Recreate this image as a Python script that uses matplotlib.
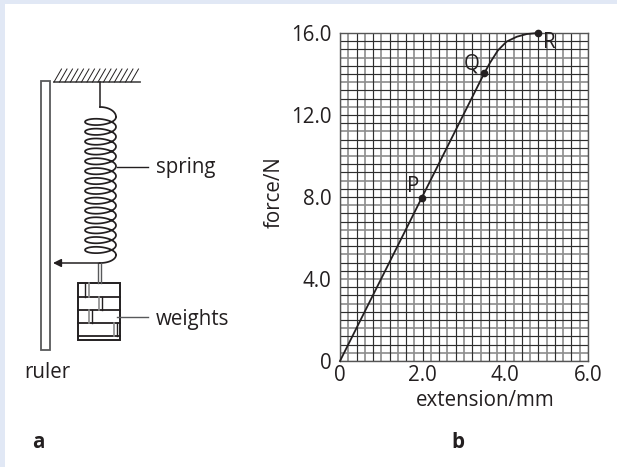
import numpy as np
import matplotlib
matplotlib.use('Agg')
import matplotlib.pyplot as plt

# graph values
curve_x = [0, 1.98, 3.48, 3.63, 3.82, 4.03, 4.28, 4.52, 4.79]
curve_f = [0, 7.97, 14.0, 14.55, 15.15, 15.58, 15.82, 15.95, 16.0]
point_names = ['P', 'Q', 'R']
point_x = [1.98, 3.48, 4.79]
point_f = [7.97, 14.05, 16.0]
x_ticks = [0, 2.0, 4.0, 6.0]
x_tick_labels = ['0', '2.0', '4.0', '6.0']
y_ticks = [4.0, 8.0, 12.0, 16.0]
y_tick_labels = ['4.0', '8.0', '12.0', '16.0']

W, H = 617, 467
INK = '#231f20'
DARK = '#2e2e2e'
GREY = '#8c8c8c'
FS = 14.8
plt.rcParams['font.family'] = 'Open Sans'

fig = plt.figure(figsize=(W / 100, H / 100), dpi=100, facecolor='#e1e8f5')

# 왼쪽 그림 a: 픽셀 좌표계
ax = fig.add_axes([0, 0, 1, 1])
ax.set_xlim(0, W)
ax.set_ylim(H, 0)
ax.axis('off')
ax.add_patch(plt.Rectangle((5, 4), W - 5, H - 4, fc='white', ec='none'))

# ceiling + hatching
ax.plot([54, 140], [82, 82], color='#555555', lw=1.3)
for hx in np.arange(54, 135, 5.5):
    ax.plot([hx, hx + 7.5], [82, 69], color=INK, lw=0.7)
ax.plot([100, 100], [82, 107], color=INK, lw=1.1)

# ruler
ax.add_patch(plt.Rectangle((41, 81), 9, 269, fc='white', ec='#58595b', lw=1.3))

# spring
t = np.linspace(0, 14 * 2 * np.pi, 1400)
sx = 100.5 + 15.5 * np.cos(t)
sy = 117 + t / (2 * np.pi) * 9.85 + 5.4 * np.sin(t)
ax.plot(sx, sy, color=INK, lw=1.25)
a = np.linspace(0, np.pi / 2, 30)
ax.plot(100 + 16 * np.sin(a), 117 - 10 * np.cos(a), color=INK, lw=1.25)
ax.plot(100 + 16 * np.cos(a), 255 + 8 * np.sin(a), color=INK, lw=1.25)

# arrow to ruler
ax.annotate('', xy=(53, 263), xytext=(100, 263),
            arrowprops=dict(arrowstyle='-|>', color=INK, lw=1.1, mutation_scale=12,
                            shrinkA=0, shrinkB=0))
ax.plot([97.5, 97.5], [263, 283], color='#58595b', lw=1)
ax.plot([101, 101], [263, 283], color='#58595b', lw=1)

# weights
ax.add_patch(plt.Rectangle((78, 283), 42, 57, fc='white', ec=INK, lw=1.4))
for wy in [297, 309.5, 323, 336]:
    ax.plot([78, 120], [wy, wy], color=INK, lw=1.3)
for wx0, wx1, y0, y1 in [(85.3, 88.5, 283, 297), (102, 99.3, 297, 309.5),
                         (91.7, 88.5, 309.5, 323), (117, 113.5, 323, 336)]:
    ax.plot([wx0, wx0], [y0, y1], color=INK, lw=1)
    ax.plot([wx1, wx1], [y0, y1], color=GREY, lw=1.2)

# labels
ax.plot([117, 148], [167, 167], color=INK, lw=1)
ax.plot([117, 148], [317, 317], color='#58595b', lw=1)
ax.text(156, 168, 'spring', fontsize=FS, color=INK, va='center')
ax.text(156, 319, 'weights', fontsize=FS, color=INK, va='center')
ax.text(24, 372, 'ruler', fontsize=FS, color=INK, va='center')
ax.text(32, 443, 'a', fontsize=FS, fontweight='bold', color=INK, ha='left', va='center')
ax.text(451, 443, 'b', fontsize=FS, fontweight='bold', color=INK, ha='left', va='center')

# 오른쪽 그래프 b
g = fig.add_axes([340 / W, 1 - 361 / H, 248 / W, 328 / H])
g.set_xlim(0, 6)
g.set_ylim(0, 16)
grid_x = np.linspace(0, 6, 31)
grid_y = np.linspace(0, 16, 41)
# 격자: 진한 선과 회색 선이 번갈아 나옴
for i, v in enumerate(grid_x):
    if i % 2:
        g.axvline(v, color=GREY, lw=1.2, zorder=1)
    else:
        g.axvline(v, color=DARK, lw=0.85, zorder=1.5)
for i, v in enumerate(grid_y):
    if i % 3 == 1:
        g.axhline(v, color=GREY, lw=1.2, zorder=1)
    else:
        g.axhline(v, color=DARK, lw=0.85, zorder=1.5)
g.set_xticks(x_ticks, x_tick_labels, fontsize=FS, color=INK)
g.set_yticks([0] + y_ticks, ['0'] + y_tick_labels, fontsize=FS, color=INK)
g.tick_params(axis='x', length=0, pad=3)
g.tick_params(axis='y', length=0, pad=6)
for s in g.spines.values():
    s.set_color('#555555')
    s.set_linewidth(1)
g.plot(curve_x, curve_f, color=INK, lw=1.3, clip_on=False, zorder=3)
g.plot(point_x, point_f, 'o', color=INK, ms=4.5, clip_on=False, zorder=4)
for name, px, pf, dx, dy in zip(point_names, point_x, point_f, [-6.5, -8.6, 8], [8, 6.5, -7]):
    g.annotate(name, (px, pf), xytext=(dx, dy), textcoords='offset points',
               fontsize=FS, color=INK, ha='center', va='center', zorder=5)
g.set_xlabel('extension/mm', fontsize=FS, color=INK)
g.xaxis.set_label_coords(145 / 248, -29 / 328)
g.set_ylabel('force/N', fontsize=FS, color=INK)
g.yaxis.set_label_coords(-55 / 248, 0.515)

fig.savefig('out.png', dpi=100, facecolor=fig.get_facecolor())
